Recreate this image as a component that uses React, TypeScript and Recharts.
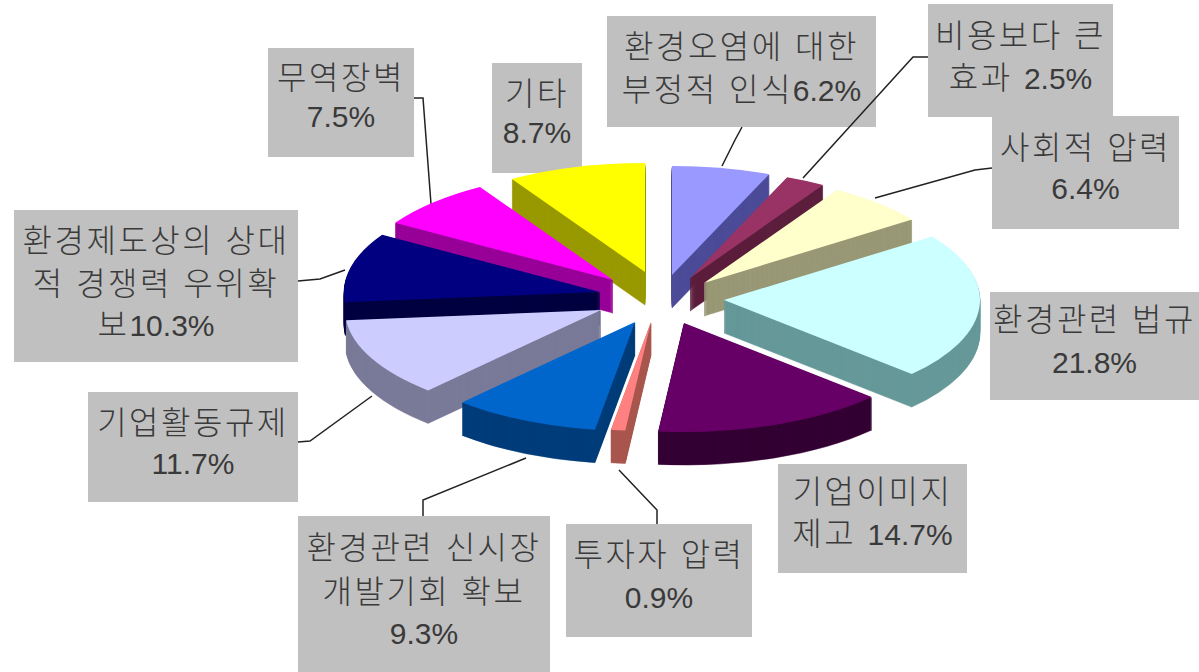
import React from "react";
import { PieChart, Pie } from "recharts";

const categories = ["환경오염", "비용보다 큰 효과", "사회적 압력", "환경관련 법규", "기업이미지 제고", "투자자 압력", "환경관련 신시장 개발기회 확보", "기업활동규제", "환경제도상의 상대적 경쟁력 우위확보", "무역장벽", "기타"];
const shares = [6.2, 2.5, 6.4, 21.8, 14.7, 0.9, 9.3, 11.7, 10.3, 7.5, 8.7];
const labelLines = [
  ["환경오염에 대한", "부정적 인식6.2%"],
  ["비용보다 큰", "효과 2.5%"],
  ["사회적 압력", "6.4%"],
  ["환경관련 법규", "21.8%"],
  ["기업이미지", "제고 14.7%"],
  ["투자자 압력", "0.9%"],
  ["환경관련 신시장", "개발기회 확보", "9.3%"],
  ["기업활동규제", "11.7%"],
  ["환경제도상의 상대", "적 경쟁력 우위확", "보10.3%"],
  ["무역장벽", "7.5%"],
  ["기타", "8.7%"],
];
const topColors = ["#9999FF", "#993366", "#FFFFCC", "#CCFFFF", "#660066", "#FF8080", "#0066CC", "#CCCCFF", "#000080", "#FF00FF", "#FFFF00"];
const wallColors = ["#4D4D99", "#5C1F3D", "#999977", "#669999", "#330033", "#A8564E", "#003D7A", "#7A7A99", "#000040", "#990099", "#999900"];
const apexes = [[672, 275], [690, 278], [704, 283], [724, 300], [684, 323], [651, 322], [635, 322], [601, 310], [600, 292], [613, 280], [645, 272]];
const drawOrder = [10, 0, 1, 2, 9, 8, 7, 3, 6, 5, 4];
const boxes = [
  [607, 16, 269, 111], [928, 4, 185, 113], [992, 116, 187, 113], [990, 292, 209, 108], [778, 464, 189, 109], [566, 524, 186, 113],
  [298, 516, 252, 156], [88, 392, 210, 110], [14, 210, 284, 152], [268, 48, 146, 109], [492, 63, 90, 110],
];
const lineYs = [[47, 90], [36, 78], [148, 188], [320, 362], [492, 534], [555, 597], [548, 592, 633], [423, 463], [241, 284, 325], [78, 116], [94, 132]];
const leaders = [
  [[722, 166], [735, 140], [742, 127]], [[803, 178], [913, 57], [928, 57]], [[875, 198], [975, 170], [992, 168]], [], [], [[619, 470], [657, 510], [657, 524]],
  [[526, 458], [423, 500], [423, 516]], [[372, 396], [310, 441], [298, 442]], [[345, 270], [320, 279], [298, 281]], [[431, 204], [423, 98], [414, 98]], [],
];

const data = categories.map((name, i) => ({ name, value: shares[i] }));
const RX = 256;
const RY = 109;
const DEPTH = 33;
const W = 1199;
const H = 672;

function slicePath(ax: number, ay: number, start: number, end: number) {
  const pt = (a: number) => {
    const r = (a * Math.PI) / 180;
    return `${(ax + RX * Math.cos(r)).toFixed(2)} ${(ay - RY * Math.sin(r)).toFixed(2)}`;
  };
  const large = Math.abs(start - end) > 180 ? 1 : 0;
  return `M ${ax} ${ay} L ${pt(start)} A ${RX} ${RY} 0 ${large} 1 ${pt(end)} Z`;
}

function makeShape(only: number) {
  return (props: any) => {
    const i = props.index;
    if (i !== only) return <g />;
    const [ax, ay] = apexes[i];
    const depths = Array.from({ length: DEPTH }, (_, k) => DEPTH - k);
    return (
      <g>
        {depths.map((d) => (
          <path key={d} d={slicePath(ax, ay + d, props.startAngle, props.endAngle)} fill={wallColors[i]} stroke={wallColors[i]} strokeWidth={0.5} />
        ))}
        <path d={slicePath(ax, ay, props.startAngle, props.endAngle)} fill={topColors[i]} />
      </g>
    );
  };
}

function runs(t: string) {
  return t.match(/[\uAC00-\uD7A3]+|[^\uAC00-\uD7A3]+/g) || [];
}

function Callout({ i }: { i: number }) {
  const [x, y, w, h] = boxes[i];
  const pts = leaders[i].map((p) => p.join(",")).join(" ");
  return (
    <g>
      <rect x={x} y={y} width={w} height={h} fill="#C0C0C0" />
      {pts && <polyline points={pts} fill="none" stroke="#222" strokeWidth={1.5} />}
      {labelLines[i].map((t, k) => (
        <text key={k} x={x + w / 2} y={lineYs[i][k]} textAnchor="middle" dominantBaseline="central" wordSpacing={3}
          fontFamily="'Liberation Sans','Noto Sans CJK KR',sans-serif" fill="#3A3A3A">
          {runs(t).map((r, n) => {
            const hangul = /[\uAC00-\uD7A3]/.test(r);
            return (
              <tspan key={n} fontSize={hangul ? 32 : 30} fontWeight={hangul ? 300 : 400} letterSpacing={hangul ? 2.5 : 0}>{r}</tspan>
            );
          })}
        </text>
      ))}
    </g>
  );
}

export default function App() {
  return (
    <div style={{ position: "absolute", left: 0, top: 0, width: W, height: H, background: "#fff" }}>
      <PieChart width={W} height={H} margin={{ top: 0, right: 0, bottom: 0, left: 0 }}>
        {drawOrder.map((idx) => (
          <Pie key={idx} data={data} dataKey="value" nameKey="name" cx={650} cy={300} outerRadius={RX} startAngle={90} endAngle={-270}
            stroke="none" isAnimationActive={false} shape={makeShape(idx)} />
        ))}
        {categories.map((c, i) => (
          <Callout key={c} i={i} />
        ))}
      </PieChart>
    </div>
  );
}
